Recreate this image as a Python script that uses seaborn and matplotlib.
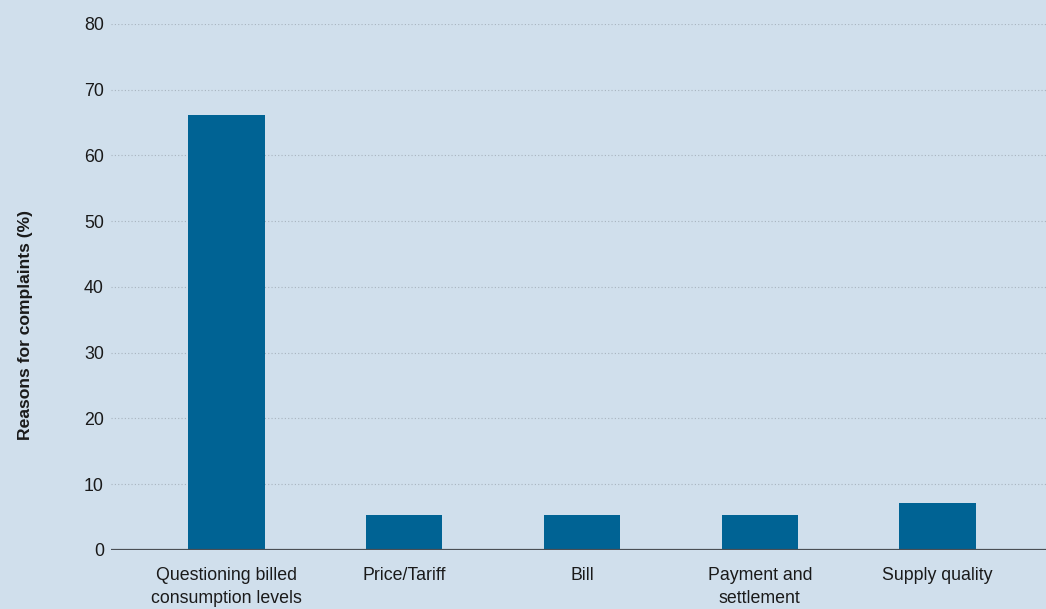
import pandas as pd
import matplotlib.pyplot as plt
import seaborn as sns

categories = ['Questioning billed\nconsumption levels', 'Price/Tariff', 'Bill',
              'Payment and\nsettlement', 'Supply quality']
values = [66.2, 5.3, 5.3, 5.3, 7.1]

bg = '#d0dfec'
bar_color = '#006394'

sns.set_style('white')
plt.rcParams['font.family'] = ['Liberation Sans', 'DejaVu Sans']

df = pd.DataFrame({'reason': categories, 'share': values})

fig = plt.figure(figsize=(10.46, 6.09), dpi=100, facecolor=bg)
ax = fig.add_axes([0.106, 0.0969, 0.894, 0.8637])
ax.set_facecolor(bg)

sns.barplot(data=df, x='reason', y='share', color=bar_color, width=0.43,
            saturation=1, linewidth=0, ax=ax, zorder=3)

ax.set_ylim(0, 80)
ax.set_xlim(-0.65, 4.61)
ax.set_yticks(range(0, 81, 10))
for y in range(10, 81, 10):
    ax.axhline(y, color='#a8b4bf', lw=0.8, ls=(0, (1, 2)), zorder=1)
ax.axhline(0, color='#4a4f55', lw=1.6, zorder=4)

for s in ax.spines.values():
    s.set_visible(False)
ax.tick_params(axis='both', length=0, labelsize=12.8, colors='#1a1a1a')
ax.tick_params(axis='y', pad=5)
ax.tick_params(axis='x', pad=12)
for lbl in ax.get_xticklabels():
    lbl.set_linespacing(1.45)
ax.set_xlabel('')
ax.set_ylabel('Reasons for complaints (%)', fontsize=12.6, fontweight='bold',
              color='#1a1a1a')
ax.yaxis.set_label_coords(-0.083, 0.428)

fig.savefig('out.png', dpi=100, facecolor=bg)
